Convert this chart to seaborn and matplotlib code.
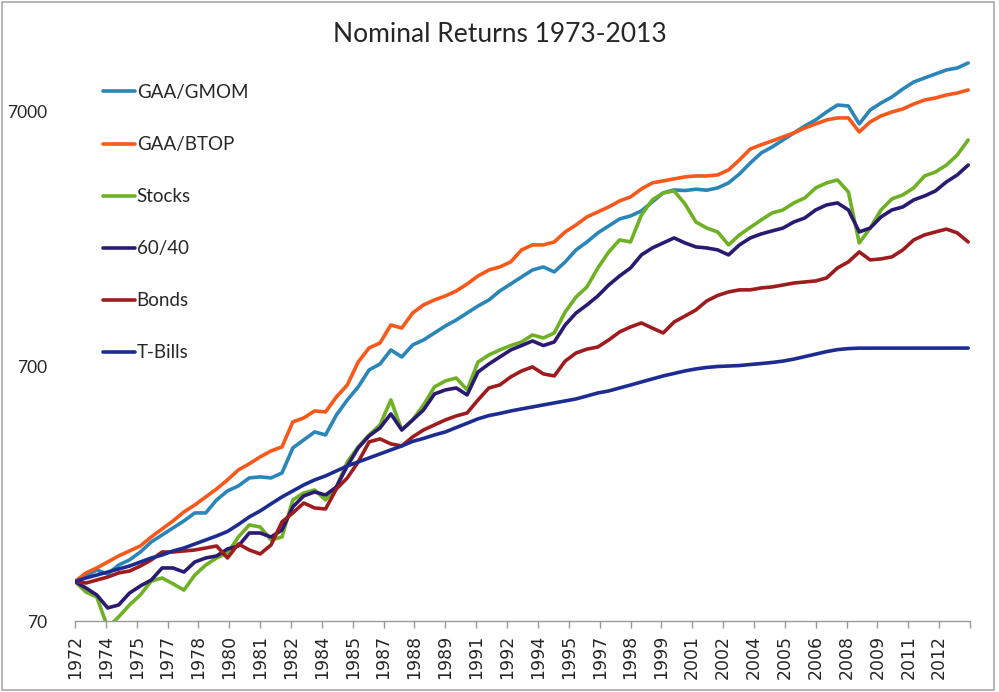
import numpy as np
import pandas as pd
import matplotlib
matplotlib.use("Agg")
import matplotlib.pyplot as plt
import seaborn as sns
from matplotlib.patches import Rectangle

# growth of 100, read every 6 months from Dec 1972 to Dec 2013
months = np.arange(0, 493, 6)

gaa_gmom = [100, 105.2, 111.0, 107.1, 116.1, 121.6, 130.7, 143.1, 152.5, 162.5,
            173.1, 186.1, 186.1, 209.3, 227.1, 237.6, 255.4, 257.8, 255.4, 267.2,
            335.2, 360.2, 387.2, 376.9, 451.5, 517.2, 581.8, 678.5, 716, 813,
            763, 851, 890, 948, 1010, 1066, 1136, 1210, 1278, 1386,
            1477, 1574, 1676, 1723, 1647, 1803, 2010, 2160, 2344, 2497,
            2660, 2733, 2860, 3103, 3366, 3459, 3440, 3480, 3450, 3523,
            3685, 3996, 4415, 4833, 5102, 5435, 5792, 6170, 6515, 7000,
            7458, 7391, 6283, 7128, 7594, 8019, 8619, 9183, 9524, 9875,
            10239, 10426, 10905]
gaa_btop = [100, 108.1, 113.1, 119.4, 126.1, 131.9, 138.0, 149.7, 161.0, 173.1,
            187.8, 200.0, 215.1, 231.2, 250.9, 274.6, 290.2, 309.0, 326.1, 338.1,
            424.0, 439.5, 468.2, 464.0, 531.5, 592.5, 729, 828, 866, 1019,
            991, 1136, 1222, 1278, 1325, 1386, 1477, 1588, 1676, 1723,
            1803, 2010, 2103, 2103, 2160, 2365, 2519, 2709, 2834, 2965,
            3131, 3246, 3490, 3685, 3752, 3822, 3890, 3925, 3925, 3961,
            4144, 4536, 5009, 5203, 5387, 5586, 5792, 6059, 6283, 6515,
            6634, 6634, 5844, 6398, 6755, 7000, 7193, 7525, 7802, 7946,
            8163, 8312, 8543]
stocks = [100, 91.0, 87.0, 66, 72.6, 80.9, 88.6, 100.5, 103.3, 98.0,
          92.6, 106.1, 116.1, 123.8, 129.5, 149.7, 166.9, 163.9, 145.7, 149.7,
          209.3, 222.9, 229.1, 209.3, 235.4, 295.2, 338.1, 376.9, 412.6, 517.2,
          394.3, 431.6, 494.5, 581.8, 614.2, 631.0, 566.2, 729, 777, 813,
          846, 874, 931, 906, 948, 1146, 1313, 1438, 1707, 1973,
          2200, 2160, 2758, 3160, 3366, 3428, 3047, 2589, 2449, 2365,
          2103, 2302, 2465, 2636, 2808, 2886, 3075, 3217, 3523, 3685,
          3786, 3396, 2141, 2449, 2886, 3189, 3306, 3523, 3925, 4069,
          4331, 4745, 5435]
sixty_forty = [100, 94.4, 88.6, 78.8, 80.9, 90.1, 96.1, 101.4, 113.1, 113.1,
               109.0, 119.4, 123.8, 126.1, 134.3, 138.0, 155.2, 155.2, 149.7, 159.5,
               196.6, 217.0, 225.0, 218.9, 235.4, 284.7, 335.2, 373.5, 401.5, 455.9,
               394.3, 431.6, 472.5, 546.0, 566.2, 576.5, 541.2, 666.4, 716, 763,
               813, 846, 882, 846, 874, 1019, 1136, 1222, 1325, 1463,
               1588, 1707, 1921, 2046, 2141, 2240, 2141, 2065, 2046, 2010,
               1921, 2103, 2240, 2323, 2387, 2449, 2589, 2684, 2886, 3019,
               3075, 2886, 2365, 2449, 2709, 2886, 2965, 3160, 3276, 3428,
               3718, 3961, 4331]
bonds = [100, 98.7, 101.4, 104.2, 108.1, 110.0, 115.1, 121.6, 130.7, 130.7,
         131.9, 133.1, 135.5, 138.0, 123.8, 140.5, 133.1, 128.4, 139.3, 171.5,
         186.1, 203.6, 194.6, 192.9, 231.2, 255.4, 295.2, 353.8, 363.6, 347.5,
         341.2, 370.2, 394.3, 412.6, 431.6, 447.5, 459.8, 517.2, 576.5, 592.5,
         636.9, 672.4, 697.3, 654.6, 642.7, 735, 791, 819, 835, 890,
         957, 1001, 1038, 991, 948, 1047, 1105, 1167, 1267, 1331,
         1374, 1400, 1400, 1425, 1438, 1463, 1490, 1504, 1518, 1560,
         1707, 1803, 1973, 1836, 1853, 1887, 2010, 2200, 2302, 2365,
         2427, 2344, 2160]
tbills = [100, 103.3, 106.1, 109.0, 112.0, 115.1, 119.4, 123.8, 127.2, 131.9,
          135.5, 140.5, 145.7, 151.1, 157.4, 167.6, 179.5, 189.5, 202.0, 215.1,
          227.1, 239.7, 250.9, 260.1, 272.1, 284.7, 295.2, 306.1, 317.4, 329.1,
          341.2, 355.4, 365.2, 376.9, 387.2, 403, 419, 436, 449, 457.8,
          468, 477, 485.5, 494.5, 503.5, 512.5, 522, 536, 551, 561,
          576.5, 592, 608.5, 625.5, 642.7, 657.5, 672.4, 684.7, 694, 700,
          703, 706, 712.7, 719, 726, 735, 748.5, 765.5, 783, 801,
          815.5, 823, 826.5, 826.5, 826.6, 826.6, 826.7, 826.7, 826.8, 826.8,
          826.9, 826.9, 827]

names = ["GAA/GMOM", "GAA/BTOP", "Stocks", "60/40", "Bonds", "T-Bills"]
series = [gaa_gmom, gaa_btop, stocks, sixty_forty, bonds, tbills]
colors = ["#2A86B8", "#F8581A", "#6FB124", "#2B1A72", "#9E1C1E", "#1C2C90"]

# x axis labels every 17 months, as in the original category axis
tick_years = ["1972", "1974", "1975", "1977", "1978", "1980", "1981", "1982",
              "1984", "1985", "1987", "1988", "1989", "1991", "1992", "1994",
              "1995", "1997", "1998", "1999", "2001", "2002", "2004", "2005",
              "2006", "2008", "2009", "2011", "2012"]

df = pd.DataFrame({
    "month": np.tile(months, len(names)),
    "value": np.concatenate(series),
    "series": np.repeat(names, len(months)),
})

sns.set_style("white")
plt.rcParams["font.family"] = ["Lato", "DejaVu Sans"]

fig = plt.figure(figsize=(9.99, 6.92), dpi=100)
ax = fig.add_axes([75 / 999, 1 - 621 / 692, 895 / 999, 571 / 692])

sns.lineplot(data=df, x="month", y="value", hue="series", hue_order=names,
             palette=dict(zip(names, colors)), linewidth=2.6, ax=ax)

ax.set_yscale("log")
ax.set_ylim(70, 12265)
ax.set_xlim(0, 493)
ax.set_yticks([70, 700, 7000])
ax.set_yticklabels(["70", "700", "7000"], fontsize=12.5)
ax.yaxis.set_minor_locator(matplotlib.ticker.NullLocator())
ax.tick_params(axis="y", length=0, pad=20)

ax.set_xticks(np.arange(0, 494, 17))
ax.set_xticklabels(tick_years + [""], rotation=90, fontsize=12.5,
                   family="DejaVu Sans")
ax.tick_params(axis="x", length=5, width=1, color="#999999", pad=5,
               direction="out", bottom=True)
ax.set_xlabel("")
ax.set_ylabel("")
for s in ["left", "top", "right"]:
    ax.spines[s].set_visible(False)
ax.spines["bottom"].set_color("#999999")
ax.spines["bottom"].set_linewidth(1)

handles, labels = ax.get_legend_handles_labels()
ax.legend(handles, labels, loc="upper left", bbox_to_anchor=(103 / 999, 1 - 84 / 692),
          bbox_transform=fig.transFigure, frameon=False, fontsize=13.5,
          handlelength=1.7, handletextpad=0.1, labelspacing=1.87, borderpad=0,
          borderaxespad=0)

fig.text(0.5, 1 - 35 / 692, "Nominal Returns 1973-2013", ha="center",
         va="center", fontsize=19)

fig.patches.append(Rectangle((0.002, 0.003), 0.993, 0.994, transform=fig.transFigure,
                             fill=False, edgecolor="#A8A8A8", linewidth=1.2))

fig.savefig("out.png", dpi=100)
